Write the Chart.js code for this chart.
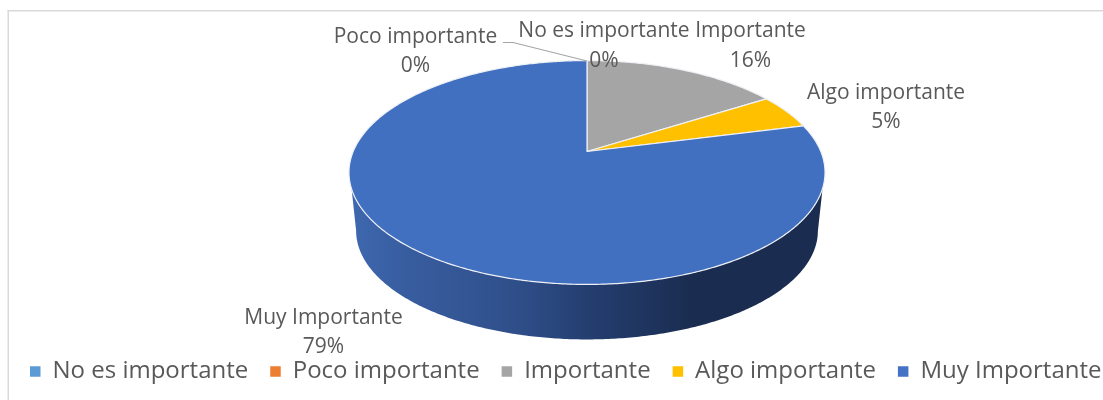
<!DOCTYPE html>
<html><head><meta charset="utf-8">
<style>html,body{margin:0;padding:0;background:#fff;overflow:hidden}canvas{display:block}</style>
<script src="https://cdn.jsdelivr.net/npm/chart.js@4"></script>
</head><body><canvas id="c" width="1103" height="400"></canvas>
<script>
const categories = ['No es importante','Poco importante','Importante','Algo importante','Muy Importante'];
const values = [0, 0, 16, 5, 79];
const colors = ['#5b9bd5','#ed7d31','#a5a5a5','#ffc000','#4170c0'];
const legendColors = ['#5b9bd5','#ed7d31','#a5a5a5','#ffc000','#4472c4'];

const FONT = '"Open Sans"';
const R = 120, K = 0.1875, SX = 233.8 / R, SY = 108 / R;

function project(el, theta, scale, dy) {
  const u = Math.sin(theta), v = Math.cos(theta), w = 1 + K * v;
  return [el.x + R * SX * scale * u / w, el.y + (dy || 0) - R * SY * scale * v / w];
}
function rad(d) { return d * Math.PI / 180; }

const labelSpots = [
  { x: 604, y: 31.5, py: 61.5 },
  { x: 415.5, y: 37.5, py: 66.5 },
  { x: 750.5, y: 31.5, py: 61.5 },
  { x: 886, y: 93.5, py: 122.5 },
  { x: 323.5, y: 318.5, py: 347.5 }
];

const pie3d = {
  id: 'pie3d',
  beforeLayout(chart) {
    const lg = chart.legend;
    if (lg && !lg._wide) {
      const fit = lg.fit;
      lg.fit = function () { this.maxWidth = 1200; fit.call(this); };
      lg._wide = true;
    }
  },
  afterLayout(chart) {
    const lg = chart.legend;
    const fs = chart.options.plugins.legend.labels.font.size;
    const pad = chart.options.plugins.legend.labels.padding;
    lg.left = 8;
    lg.right = chart.width + 40;
    lg.top = 374 - pad - fs * 0.6;
    lg.bottom = chart.height;
  },
  beforeDraw(chart) {
    const c = chart.ctx;
    c.save();
    c.fillStyle = '#fff'; c.fillRect(0, 0, chart.width, chart.height);
    c.fillStyle = '#d9d9d9';
    c.fillRect(7.5, 10, 1.5, chart.height - 10);
    c.fillRect(7.5, 10, chart.width, 1.5);
    c.restore();
  },
  beforeDatasetDraw() { return false; },
  beforeDatasetsDraw(chart) {
    const c = chart.ctx, meta = chart.getDatasetMeta(0);
    const el = meta.data[0];
    const DS = 0.97, DY = 59;
    const a1 = rad(108.8), a2 = rad(251.2), l1 = rad(100.8), l2 = rad(259.2);
    c.save();
    c.beginPath();
    for (let d = a1; d <= a2; d += 0.01) { const p = project(el, d, 1); c.lineTo(p[0], p[1]); }
    for (let d = l2; d >= l1; d -= 0.01) { const p = project(el, d, DS, DY); c.lineTo(p[0], p[1]); }
    c.closePath();
    const g = c.createLinearGradient(el.x - 238, 0, el.x + 238, 0);
    g.addColorStop(0, '#3e68b0');
    g.addColorStop(0.12, '#385d9f');
    g.addColorStop(0.35, '#2f4f8a');
    g.addColorStop(0.5, '#253e70');
    g.addColorStop(0.62, '#1f355f');
    g.addColorStop(0.72, '#1a2d50');
    g.addColorStop(1, '#1a2d50');
    c.fillStyle = g; c.fill();
    c.restore();
    meta.data.forEach((a, i) => {
      if (a.endAngle - a.startAngle < 1e-4) return;
      const s = a.startAngle + Math.PI / 2, e = a.endAngle + Math.PI / 2;
      c.beginPath();
      c.moveTo(a.x, a.y);
      const n = Math.max(4, Math.ceil((e - s) / 0.01));
      for (let k = 0; k <= n; k++) { const p = project(a, s + (e - s) * k / n, 1); c.lineTo(p[0], p[1]); }
      c.closePath();
      c.fillStyle = colors[i]; c.fill();
      c.strokeStyle = '#eef0f5'; c.lineWidth = 1.2; c.lineJoin = 'round'; c.stroke();
    });
  },
  afterDatasetsDraw(chart) {
    const c = chart.ctx;
    const total = values.reduce((a, b) => a + b, 0);
    c.save();
    c.strokeStyle = '#a6a6a6'; c.lineWidth = 1.2;
    c.beginPath(); c.moveTo(503, 42.5); c.lineTo(513, 42.5); c.lineTo(587, 61); c.stroke();
    c.font = '21px ' + FONT; c.fillStyle = '#595959';
    c.textAlign = 'center'; c.textBaseline = 'middle';
    categories.forEach((name, i) => {
      const s = labelSpots[i];
      c.fillText(name, s.x, s.y);
      c.fillText(Math.round(values[i] / total * 100) + '%', s.x, s.py);
    });
    c.restore();
  }
};

new Chart(document.getElementById('c'), {
  type: 'pie',
  data: { labels: categories, datasets: [{ data: values, backgroundColor: legendColors, borderWidth: 0 }] },
  plugins: [pie3d],
  options: {
    responsive: false,
    animation: false,
    devicePixelRatio: 1,
    radius: R,
    layout: { padding: { left: 71, right: 0, top: 31, bottom: 72 } },
    plugins: {
      tooltip: { enabled: false },
      legend: {
        position: 'bottom', align: 'start',
        labels: {
          boxWidth: 10.5, boxHeight: 10.5, padding: 22, color: '#595959',
          font: { family: FONT, size: 24 }
        }
      }
    }
  }
});
</script></body></html>
